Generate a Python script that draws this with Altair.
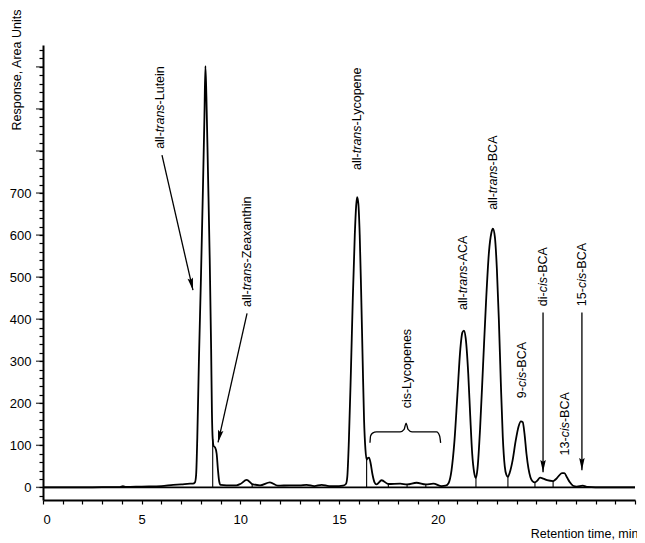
import math
import altair as alt
import pandas as pd

# ---------------- data ----------------
time_min = [0, 1, 2, 3, 3.9, 4.05, 4.2, 5, 6, 6.6, 7.0, 7.45, 7.6, 7.7, 7.76, 7.82, 7.9, 8.0, 8.1,
            8.18, 8.23, 8.28, 8.36, 8.45, 8.52, 8.56, 8.6, 8.65, 8.72, 8.8, 8.86, 8.93, 9.0, 9.3,
            9.8, 10.0, 10.32, 10.6, 11.0, 11.5, 11.9, 12.5, 13.0, 13.36, 13.75, 14.12, 14.5, 15.0,
            15.2, 15.35, 15.42, 15.5, 15.6, 15.7, 15.8, 15.87, 15.92, 15.98, 16.05, 16.12, 16.2,
            16.27, 16.34, 16.4, 16.46, 16.52, 16.6, 16.7, 16.8, 16.9, 17.16, 17.5, 18.1, 18.45,
            18.93, 19.4, 19.78, 20.2, 20.4, 20.55, 20.7, 20.85, 21.0, 21.15, 21.25, 21.33, 21.42,
            21.55, 21.65, 21.75, 21.85, 21.94, 22.02, 22.15, 22.3, 22.45, 22.6, 22.72, 22.8,
            22.9, 23.0, 23.1, 23.2, 23.3, 23.4, 23.48, 23.56, 23.65, 23.8, 23.95, 24.1, 24.22,
            24.31, 24.4, 24.5, 24.6, 24.7, 24.8, 24.93, 25.05, 25.19, 25.35, 25.55, 25.85, 26.0,
            26.15, 26.3, 26.42, 26.55, 26.7, 26.86, 27.05, 27.35, 27.6, 28, 29, 30]
response = [0, 0, 0, 0.5, 0.5, 3, 1, 2, 3, 6, 7, 9, 9, 12, 30, 120, 300, 490, 700,
            880, 1002, 930, 750, 540, 330, 180, 115, 98, 95, 80, 45, 14, 6, 5,
            5, 8, 18, 8, 5, 12, 4, 5, 5, 6, 3, 6, 3, 3,
            4, 8, 25, 110, 270, 450, 600, 670, 690, 675, 600, 470, 300,
            160, 90, 66, 70, 71, 58, 30, 12, 7, 17, 8, 9, 7,
            11, 7, 9, 3, 4, 10, 40, 110, 220, 330, 368, 373, 355,
            270, 170, 80, 35, 22, 45, 140, 290, 440, 560, 605, 615,
            595, 520, 400, 250, 120, 50, 30, 25, 35, 65, 110, 145, 157,
            155, 128, 80, 45, 24, 15, 12, 16, 23, 21, 17, 15, 20,
            28, 34, 34, 24, 12, 4, 2, 4, 1, 0, 0, 0]

# integration drop lines (retention time, height where they meet the trace)
drop_x = [8.6, 16.4, 21.94, 23.56, 24.93, 25.85, 10.6, 17.5, 18.45, 19.4]
drop_top = [115, 66, 22, 25, 12, 15, 8, 8, 7, 7]

# peak labels ("|...|" marks the italic part)
label_text = ["all-|trans|-Lutein", "all-|trans|-Zeaxanthin", "all-|trans|-Lycopene",
              "cis-Lycopenes", "all-|trans|-ACA", "all-|trans|-BCA", "9-|cis|-BCA",
              "di-|cis|-BCA", "13-|cis|-BCA", "15-|cis|-BCA"]
label_x = [5.93, 10.34, 15.91, 18.45, 21.28, 22.8, 24.27, 25.34, 26.45, 27.31]
label_y = [805, 429, 755, 188, 422, 660, 212, 431, 76, 431]

# arrows (start -> tip)
arrow_x1 = [6.03, 10.34, 25.34, 27.31]
arrow_y1 = [790, 414, 416, 416]
arrow_x2 = [7.6, 8.87, 25.34, 27.31]
arrow_y2 = [469, 107, 36, 41]

# curly brace over the cis-lycopenes
brace_x = [16.57, 16.6, 16.7, 16.9, 18.1, 18.3, 18.4, 18.5, 18.7, 19.95, 20.1, 20.15]
brace_y = [106, 122, 129, 132, 132, 138, 153, 138, 132, 132, 122, 106]

y_ticks = list(range(-20, 1041, 20))
y_major = list(range(0, 1001, 100))
x_ticks = list(range(0, 31, 1))

# ---------------- layout ----------------
W, H = 592, 455
X_MIN, X_MAX = 0, 30
Y_MIN, Y_MAX = -30, 1052
PPX = W / (X_MAX - X_MIN)
PPU = H / (Y_MAX - Y_MIN)
FONT = "Liberation Sans"
FS = 12.5

ARIAL = {'a': 556, 'l': 222, '-': 333, 't': 278, 'r': 333, 'n': 556, 's': 500, 'L': 556,
         'u': 556, 'e': 556, 'i': 222, 'Z': 611, 'x': 500, 'h': 556, 'y': 500, 'c': 500,
         'o': 556, 'p': 556, 'A': 667, 'C': 722, 'B': 667, 'd': 556, ' ': 278}


def text_w(s):
    return sum(ARIAL.get(ch, 556) for ch in s) * FS / 1000.0


seg_rows = []
for txt, lx, ly in zip(label_text, label_x, label_y):
    off = 0.0
    for k, part in enumerate(txt.split("|")):
        if part:
            seg_rows.append({"x": lx, "y": ly + off / PPU, "t": part,
                             "it": "italic" if k % 2 == 1 else "normal"})
        off += text_w(part)
seg = pd.DataFrame(seg_rows)

trace = pd.DataFrame({"t": time_min, "r": response})
drops = pd.DataFrame({"x": drop_x, "y0": [0] * len(drop_x), "y1": drop_top})
brace = pd.DataFrame({"x": brace_x, "y": brace_y, "o": list(range(len(brace_x)))})

angles = []
for x1, y1, x2, y2 in zip(arrow_x1, arrow_y1, arrow_x2, arrow_y2):
    dxp = (x2 - x1) * PPX
    dyp = -(y2 - y1) * PPU
    a = math.degrees(math.atan2(dxp, -dyp))
    angles.append(a + 360 if a < 0 else a)
arrows = pd.DataFrame({"x1": arrow_x1, "y1": arrow_y1, "x2": arrow_x2, "y2": arrow_y2,
                       "ang": angles})
base = pd.DataFrame({"x": [X_MIN], "x2": [X_MAX], "y": [0]})
majors = pd.DataFrame({"v": y_major})

xs = alt.Scale(domain=[X_MIN, X_MAX], nice=False, zero=False)
ys = alt.Scale(domain=[Y_MIN, Y_MAX], nice=False, zero=False)

x_axis = alt.Axis(values=x_ticks, tickSize=4, labelPadding=9, labelOverlap=False,
                  labelExpr="datum.value % 5 === 0 && datum.value <= 20 ? datum.label : ''",
                  title="Retention time, min", titleAlign="right", titleAnchor="end",
                  titleX=595, titleY=33, titleBaseline="middle", titleFontWeight="normal",
                  titleFontSize=FS, titleFont=FONT)
y_axis = alt.Axis(values=y_ticks, tickSize=4, labelPadding=8, labelOverlap=False,
                  labelExpr="datum.value >= 0 && datum.value <= 700 && datum.value % 100 === 0 ? datum.label : ''",
                  title="Response, Area Units", titleAngle=270, titleAlign="left",
                  titleBaseline="middle", titleX=-27, titleY=85, titleFontWeight="normal",
                  titleFontSize=FS, titleFont=FONT)


def X(field):
    return alt.X(field, type="quantitative", scale=xs, axis=x_axis)


def Y(field):
    return alt.Y(field, type="quantitative", scale=ys, axis=y_axis)


curve = alt.Chart(trace).mark_line(color="black", strokeWidth=1.8, interpolate="monotone").encode(
    x=X("t"), y=Y("r"))
baseline = alt.Chart(base).mark_rule(color="black", strokeWidth=1.6).encode(
    x=X("x"), x2="x2:Q", y=Y("y"))
drop = alt.Chart(drops).mark_rule(color="black", strokeWidth=1.1).encode(
    x=X("x"), y=Y("y0"), y2="y1:Q")
brace_l = alt.Chart(brace).mark_line(color="black", strokeWidth=1.3, interpolate="monotone").encode(
    x=X("x"), y=Y("y"), order="o:Q")
arrow_l = alt.Chart(arrows).mark_rule(color="black", strokeWidth=1.3).encode(
    x=X("x1"), y=Y("y1"), x2="x2:Q", y2="y2:Q")
arrow_h = alt.Chart(arrows).mark_point(
    shape="M0,0 L-0.45,2 L0,1.7 L0.45,2 Z", filled=True, color="black", opacity=1,
    size=150, strokeWidth=0).encode(
    x=X("x2"), y=Y("y2"), angle=alt.Angle("ang:Q", scale=None))
txt_n = alt.Chart(seg).transform_filter("datum.it === 'normal'").mark_text(
    angle=270, align="left", baseline="middle", font=FONT, fontSize=FS, color="black").encode(
    x=X("x"), y=Y("y"), text="t:N")
txt_i = alt.Chart(seg).transform_filter("datum.it === 'italic'").mark_text(
    angle=270, align="left", baseline="middle", font=FONT, fontSize=FS, fontStyle="italic",
    color="black").encode(
    x=X("x"), y=Y("y"), text="t:N")
major = alt.Chart(majors).mark_tick(color="black", size=7, thickness=1.4).encode(
    x=alt.value(-3.5), y=Y("v"))

chart = alt.layer(curve, baseline, drop, brace_l, arrow_l, arrow_h, txt_n, txt_i, major).properties(
    width=W, height=H,
    autosize=alt.AutoSizeParams(type="none"),
    padding={"left": 35, "top": 37, "right": 2, "bottom": 40},
    background="white",
).configure_view(stroke=None).configure_axis(
    grid=False, domainColor="black", domainWidth=2, tickColor="black", tickWidth=1.2,
    labelColor="black", labelFont=FONT, labelFontSize=13, titleColor="black",
)

chart.save("out.html", embed_options={"renderer": "svg", "actions": False})
